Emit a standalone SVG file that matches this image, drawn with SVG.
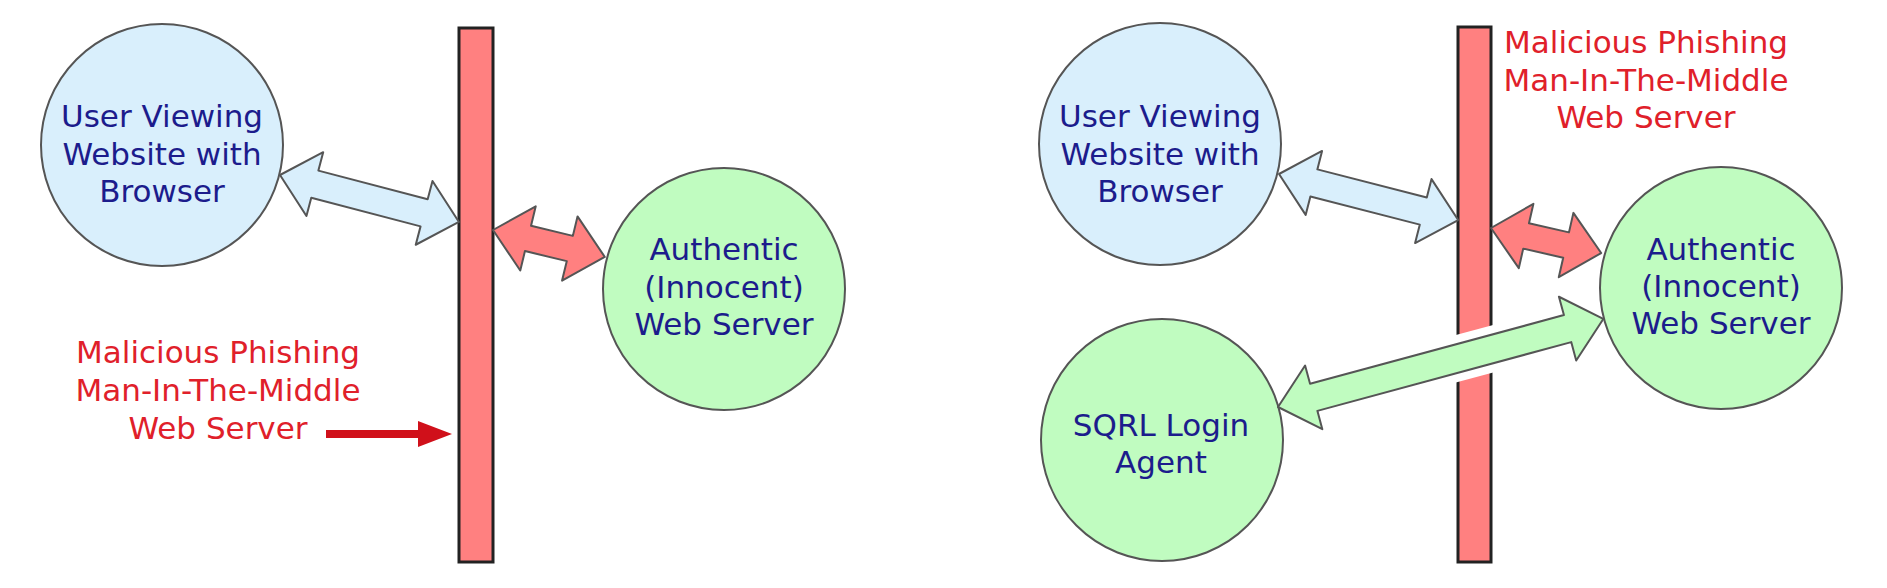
<svg xmlns="http://www.w3.org/2000/svg" width="1887" height="588" viewBox="0 0 1887 588">
<style>
.bg{fill:#ffffff}
.bar{fill:#ff8080;stroke:#222222;stroke-width:3}
.blue{fill:#d9effc;stroke:#555555;stroke-width:2}
.green{fill:#c0fcc0;stroke:#555555;stroke-width:2}
.redarr{fill:#ff8080;stroke:#555555;stroke-width:2;stroke-linejoin:round}
.bluearr{fill:#d9effc;stroke:#555555;stroke-width:2;stroke-linejoin:round}
.greenarr{fill:#c0fcc0;stroke:#555555;stroke-width:2;stroke-linejoin:round}
.lbl{font-family:"DejaVu Sans",Verdana,sans-serif;font-size:31px;fill:#1c1c8c;text-anchor:middle}
.mal{font-family:"DejaVu Sans",Verdana,sans-serif;font-size:31px;fill:#e0202a;text-anchor:middle}
.ptr{fill:#d0101a}
</style>
<rect class="bg" x="0" y="0" width="1887" height="588"/>

<!-- Left diagram -->
<g id="mitm-bar-left"><rect class="bar" x="459" y="28" width="34" height="534"/></g>
<g id="user-left">
<circle class="blue" cx="162" cy="145" r="121"/>
<text class="lbl" x="162" y="127">User Viewing</text>
<text class="lbl" x="162" y="165">Website with</text>
<text class="lbl" x="162" y="202">Browser</text>
</g>
<g id="server-left">
<circle class="green" cx="724" cy="289" r="121"/>
<text class="lbl" x="724" y="260">Authentic</text>
<text class="lbl" x="724" y="298">(Innocent)</text>
<text class="lbl" x="724" y="335">Web Server</text>
</g>
<g id="label-left">
<text class="mal" x="218" y="363">Malicious Phishing</text>
<text class="mal" x="218" y="401">Man-In-The-Middle</text>
<text class="mal" x="218" y="439">Web Server</text>
</g>

<!-- Right diagram -->
<g id="mitm-bar-right"><rect class="bar" x="1458" y="27" width="33" height="535"/></g>
<g id="user-right">
<circle class="blue" cx="1160" cy="144" r="121"/>
<text class="lbl" x="1160" y="127">User Viewing</text>
<text class="lbl" x="1160" y="165">Website with</text>
<text class="lbl" x="1160" y="202">Browser</text>
</g>
<g id="server-right">
<circle class="green" cx="1721" cy="288" r="121"/>
<text class="lbl" x="1721" y="260">Authentic</text>
<text class="lbl" x="1721" y="297">(Innocent)</text>
<text class="lbl" x="1721" y="334">Web Server</text>
</g>
<g id="sqrl-agent">
<circle class="green" cx="1162" cy="440" r="121"/>
<text class="lbl" x="1161" y="436">SQRL Login</text>
<text class="lbl" x="1161" y="473">Agent</text>
</g>
<g id="label-right">
<text class="mal" x="1646" y="53">Malicious Phishing</text>
<text class="mal" x="1646" y="91">Man-In-The-Middle</text>
<text class="mal" x="1646" y="128">Web Server</text>
</g>

<g id="connectors">
<polygon class="bluearr" transform="translate(280,175) rotate(14.71)" points="0,0 36,-33 36,-14 149,-14 149,-33 185,0 149,33 149,14 36,14 36,33"/>
<polygon class="redarr" transform="translate(493,230) rotate(13.55)" points="0,0 36,-33 36,-13 79,-13 79,-33 115,0 79,33 79,13 36,13 36,33"/>
<path class="ptr" d="M326,430 L418,430 L418,421 L452,434 L418,447 L418,438 L326,438 Z"/>

<polygon class="bluearr" transform="translate(1279,174) rotate(14.4)" points="0,0 36,-33 36,-14 149,-14 149,-33 185,0 149,33 149,14 36,14 36,33"/>
<polygon class="redarr" transform="translate(1491,228) rotate(12.8)" points="0,0 36,-33 36,-13 77,-13 77,-33 113,0 77,33 77,13 36,13 36,33"/>
<polygon fill="#ffffff" points="1454,335.6 1495,324.5 1495,372 1454,383.1"/>
<polygon class="greenarr" transform="translate(1278,407) rotate(-15.15)" points="0,0 37,-33 37,-14 300,-14 300,-33 337,0 300,33 300,14 37,14 37,33"/>
</g>
</svg>
